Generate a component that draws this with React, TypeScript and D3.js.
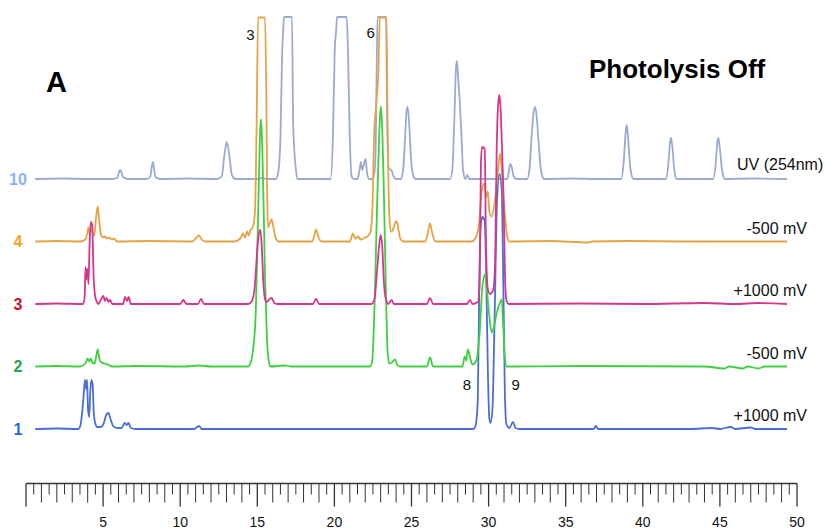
import React from "react";
import * as d3 from "d3";

// ---------- DATA ----------
// retention time (min) axis
const TIME_DOMAIN = [0, 50];
const TICK_LABELS = [5, 10, 15, 20, 25, 30, 35, 40, 45, 50];

// channel ids (top to bottom) and their right-hand descriptions
const CHANNELS = ["10", "4", "3", "2", "1"];
const CHANNEL_DESCRIPTIONS = ["UV (254nm)", "-500 mV", "+1000 mV", "-500 mV", "+1000 mV"];

// signal traces: [time (min), response (arbitrary units)]
const UV_254 = [
  [0.6, 0], [2.5, 0.5], [4, 0], [5.6, 0], [5.9, 1], [6.1, 9], [6.3, 2], [6.6, 0],
  [7.8, 0], [8.05, 2], [8.22, 17], [8.4, 2], [8.7, 0], [10.5, 0.5],
  [12.4, 0], [12.7, 3], [12.85, 22], [13.02, 37], [13.2, 22], [13.35, 4], [13.6, 0],
  [15.0, 0], [15.3, 1], [15.6, 0],
  [16.2, 0], [16.35, 6], [16.5, 40], [16.6, 119], [16.68, 150], [16.73, 162], [17.25, 162],
  [17.32, 60], [17.4, 29], [17.5, 10], [17.6, 0],
  [19.75, 0], [19.9, 40], [20.02, 128], [20.12, 150], [20.17, 162], [20.8, 162], [20.88, 128],
  [21.0, 40], [21.12, 2], [21.3, 0],
  [21.5, 0], [21.62, 8], [21.72, 17], [21.8, 9], [21.9, 14], [22.02, 20], [22.12, 6], [22.25, 0],
  [22.5, 0], [22.62, 10], [22.68, 32], [22.75, 120], [22.8, 162], [23.35, 162], [23.42, 60],
  [23.5, 12], [23.6, 10], [23.72, 8], [23.85, 2], [24.0, 0],
  [24.3, 0], [24.45, 8], [24.58, 40], [24.68, 68], [24.75, 72], [24.85, 55], [24.95, 25], [25.1, 4], [25.25, 0],
  [27.5, 0], [27.65, 10], [27.78, 60], [27.88, 110], [27.95, 118], [28.03, 100], [28.12, 80],
  [28.22, 50], [28.35, 8], [28.5, 0], [28.62, 4], [28.75, 0],
  [31.2, 0], [31.3, 6], [31.4, 15], [31.5, 12], [31.62, 3], [31.8, 0],
  [32.5, 0], [32.65, 10], [32.8, 45], [32.95, 70], [33.02, 72], [33.12, 62], [33.25, 35], [33.4, 8], [33.6, 0],
  [35.5, 0.5], [37, 0],
  [38.6, 0], [38.75, 15], [38.88, 45], [38.96, 54], [39.05, 40], [39.2, 10], [39.4, 0],
  [41.5, 0], [41.65, 14], [41.76, 36], [41.83, 41], [41.93, 30], [42.05, 8], [42.2, 0],
  [44.57, 0], [44.72, 14], [44.83, 36], [44.9, 41], [45.0, 30], [45.15, 8], [45.33, 0],
  [47, 0.5], [49.35, 0],
];

const ED_CH4 = [
  [0.6, 0], [2, 0.5], [3.5, 0], [3.85, 2], [4.0, 10], [4.05, 14], [4.12, 8], [4.22, 12], [4.3, 10],
  [4.42, 6], [4.55, 25], [4.65, 35], [4.75, 20], [4.85, 8], [5.0, 4], [5.1, 5], [5.25, 3], [5.4, 4],
  [5.55, 2], [5.7, 3], [5.9, 0], [8, 0.5],
  [10.8, 0], [11.0, 3], [11.22, 6], [11.4, 2], [11.6, 0],
  [13.5, 0], [13.9, 3], [14.07, 8], [14.2, 4], [14.35, 10], [14.45, 6], [14.55, 11], [14.7, 14],
  [14.85, 30], [14.95, 110], [15.05, 224], [15.5, 224], [15.58, 150], [15.65, 40],
  [15.69, 14], [15.8, 18], [15.93, 22], [16.05, 14], [16.2, 3], [16.4, 0],
  [18.55, 0], [18.7, 6], [18.81, 12], [18.95, 5], [19.15, 0],
  [21.0, 0], [21.2, 8], [21.35, 3], [21.55, 5], [21.7, 2], [22.0, 4], [22.2, 6], [22.35, 10],
  [22.48, 40], [22.58, 110], [22.68, 131], [22.85, 170], [22.95, 224], [23.38, 224], [23.45, 120],
  [23.55, 30], [23.65, 10], [23.72, 10], [23.85, 14], [23.95, 19], [24.04, 20], [24.15, 12], [24.3, 2], [24.5, 0],
  [25.9, 0], [26.05, 8], [26.2, 18], [26.35, 8], [26.55, 0],
  [28.9, 0], [29.2, 5], [29.4, 20], [29.55, 50], [29.7, 58], [29.85, 45], [29.95, 50], [30.05, 30],
  [30.2, 25], [30.4, 40], [30.6, 70], [30.75, 88], [30.9, 60], [31.0, 35], [31.1, 20], [31.2, 5], [31.35, 0],
  [34, 0.5], [36.5, -1], [36.7, 0], [39, 0.5], [42.5, 0], [49.35, 0],
];

const ED_CH3 = [
  [0.6, 0], [2, 0.5], [3.7, 0], [3.8, 6], [3.86, 37], [3.92, 25], [3.98, 35], [4.05, 20], [4.12, 57],
  [4.2, 82], [4.3, 78], [4.38, 30], [4.48, 8], [4.6, 2], [4.7, 0], [4.85, 4], [5.01, 8], [5.12, 3],
  [5.23, 6], [5.35, 2], [5.45, 4], [5.6, 0], [6.3, 0], [6.42, 7], [6.55, 3], [6.65, 7], [6.8, 0],
  [10.0, 0], [10.2, 4], [10.4, 0], [11.15, 0], [11.35, 5], [11.55, 0],
  [14.4, 0], [14.65, 3], [14.85, 20], [15.0, 55], [15.1, 70], [15.2, 74], [15.28, 60], [15.4, 20],
  [15.5, 5], [15.6, 2], [15.8, 5], [15.93, 6], [16.1, 1], [16.3, 0],
  [18.6, 0], [18.81, 5], [19.0, 0],
  [22.4, 0], [22.6, 5], [22.75, 30], [22.88, 55], [23.0, 69], [23.1, 58], [23.22, 20], [23.35, 4],
  [23.5, 0], [23.6, 2], [23.72, 4], [23.85, 0],
  [26.0, 0], [26.2, 6], [26.4, 0], [28.6, 0], [28.79, 4], [28.95, 0],
  [29.3, 2], [29.42, 20], [29.5, 140], [29.58, 157], [29.75, 155], [29.83, 60], [29.95, 15],
  [30.1, 10], [30.3, 14], [30.42, 40], [30.52, 150], [30.62, 200], [30.7, 209], [30.78, 195],
  [30.88, 150], [30.98, 100], [31.06, 30], [31.15, 4], [31.3, 0],
  [36, 0.5], [40, 0], [44, 1], [46, 0], [47.5, 1], [49.35, 0],
];

const ED_CH2 = [
  [0.6, 0], [2, 0.5], [3.5, 0], [3.85, 3], [4.0, 8], [4.1, 5], [4.2, 8], [4.3, 4], [4.45, 3],
  [4.55, 10], [4.65, 17], [4.75, 8], [4.9, 4], [5.1, 3], [5.3, 2], [5.6, 0], [7.2, 0.5], [10.3, 0], [11.2, 1], [12, 0],
  [14.4, 0], [14.55, 3], [14.75, 20], [14.9, 54], [15.05, 150], [15.2, 240], [15.25, 247],
  [15.32, 220], [15.4, 167], [15.5, 90], [15.62, 30], [15.75, 5], [15.85, 0], [16.8, 1], [17.2, 0],
  [22.3, 0], [22.45, 5], [22.6, 60], [22.75, 150], [22.9, 230], [23.0, 260], [23.08, 245],
  [23.2, 180], [23.32, 90], [23.45, 15], [23.55, 3], [23.72, 4], [23.93, 7], [24.1, 1], [24.3, 0],
  [26.0, 0], [26.2, 9], [26.4, 0],
  [28.3, 0], [28.45, 10], [28.55, 6], [28.65, 17], [28.75, 12], [28.95, 2], [29.2, 6], [29.4, 30],
  [29.6, 80], [29.77, 92], [29.9, 75], [30.05, 50], [30.2, 34], [30.35, 40], [30.55, 55], [30.75, 64],
  [30.85, 67], [30.95, 40], [31.05, 10], [31.17, 0],
  [36, 0.5], [44, 0], [45.3, -2], [45.6, 0], [46.5, -2], [46.8, 0], [47.5, -2], [47.9, 0], [49.35, 0],
];

const ED_CH1 = [
  [0.6, 0], [2, 0.5], [3.4, 0], [3.55, 5], [3.72, 30], [3.82, 49], [3.9, 40], [3.96, 49], [4.02, 20],
  [4.1, 12], [4.16, 35], [4.24, 49], [4.32, 45], [4.4, 15], [4.5, 5], [4.62, 2], [4.85, 2], [5.05, 6],
  [5.2, 14], [5.34, 16], [5.48, 10], [5.65, 3], [5.9, 1], [6.2, 1], [6.4, 6], [6.53, 4], [6.65, 6],
  [6.8, 1], [7.1, 0], [10.9, 0], [11.22, 3], [11.4, 0],
  [29.0, 0], [29.15, 3], [29.3, 30], [29.4, 150], [29.5, 205], [29.6, 212], [29.75, 208], [29.85, 150],
  [29.95, 60], [30.05, 10], [30.12, 6], [30.25, 20], [30.4, 120], [30.55, 230], [30.7, 255],
  [30.85, 240], [30.95, 150], [31.05, 40], [31.15, 5], [31.35, 1], [31.58, 7], [31.75, 1], [32, 0],
  [36.8, 0], [36.96, 3], [37.1, 0], [43, 0], [44.5, 1], [45, 0], [45.7, 2], [46, 0], [47, 1.5], [47.3, 0], [49.35, 0],
];

const SIGNALS = [UV_254, ED_CH4, ED_CH3, ED_CH2, ED_CH1];

// peak annotations: [label, time, channel it sits above/below]
const PEAK_LABELS = ["3", "6", "8", "9"];
const PEAK_TIMES = [14.55, 22.35, 28.6, 31.75];

// ---------- STYLE ----------
const LINE_COLORS = ["#9caad0", "#e6a243", "#d6378c", "#3fd03f", "#4a6ed6"];
const LABEL_COLORS = ["#8cb2f4", "#f4a623", "#c8102e", "#1da84f", "#1f6fd1"];
const FONT = "'Liberation Sans', Arial, Helvetica, sans-serif";

export default function App() {
  const width = 826;
  const height = 529;

  const x = d3.scaleLinear().domain(TIME_DOMAIN).range([26, 797]);
  const offset = d3.scalePoint<string>().domain(CHANNELS).range([179, 429]);
  const yResp = d3.scaleLinear().domain([0, 100]).range([0, 100]);

  const axisY = 483.5;
  const ticks = d3.range(0, 101).map((i) => i / 2);

  const lineFor = (ch: string) =>
    d3
      .line<number[]>()
      .x((d) => x(d[0]))
      .y((d) => (offset(ch) as number) - yResp(d[1]))
      .curve(d3.curveMonotoneX);

  const drawOrder = [0, 4, 3, 1, 2];

  const peakY = [40, 38, 390, 390];

  return (
    <svg
      width={width}
      height={height}
      style={{ position: "absolute", left: 0, top: 0, background: "#fff" }}
      fontFamily={FONT}
    >
      <rect x={0} y={0} width={width} height={height} fill="#fff" />

      {drawOrder.map((i) => (
        <path
          key={CHANNELS[i]}
          d={lineFor(CHANNELS[i])(SIGNALS[i] as number[][]) || ""}
          fill="none"
          stroke={LINE_COLORS[i]}
          strokeWidth={1.8}
          strokeLinejoin="round"
        />
      ))}

      {CHANNELS.map((ch, i) => (
        <text
          key={"l" + ch}
          x={18}
          y={(offset(ch) as number) + 5.5}
          textAnchor="middle"
          fontWeight="bold"
          fontSize={16}
          fill={LABEL_COLORS[i]}
        >
          {ch}
        </text>
      ))}

      {CHANNELS.map((ch, i) =>
        i === 0 ? (
          <text key={"d" + ch} x={737} y={(offset(ch) as number) - 9} fontSize={16} fill="#111">
            {CHANNEL_DESCRIPTIONS[i]}
          </text>
        ) : (
          <text
            key={"d" + ch}
            x={807}
            y={(offset(ch) as number) - 8}
            textAnchor="end"
            fontSize={16}
            fill="#111"
          >
            {CHANNEL_DESCRIPTIONS[i]}
          </text>
        )
      )}

      {PEAK_LABELS.map((p, i) => (
        <text key={"p" + p} x={x(PEAK_TIMES[i])} y={peakY[i]} textAnchor="middle" fontSize={15} fill="#111">
          {p}
        </text>
      ))}

      <text x={46} y={92} fontSize={29} fontWeight="bold" fill="#000">
        A
      </text>
      <text x={589} y={78} fontSize={26} fontWeight="bold" fill="#000">
        Photolysis Off
      </text>

      {/* time axis */}
      <line x1={x(0)} x2={x(50)} y1={axisY} y2={axisY} stroke="#333" strokeWidth={1.6} />
      {ticks.map((t) => {
        const major = Math.abs(t % 5) < 1e-9;
        const whole = Math.abs(t % 1) < 1e-9;
        const len = major ? 23 : whole ? 19 : 11;
        return (
          <line
            key={"t" + t}
            x1={x(t)}
            x2={x(t)}
            y1={axisY}
            y2={axisY + len}
            stroke="#333"
            strokeWidth={major ? 1.3 : 1}
          />
        );
      })}
      {TICK_LABELS.map((t) => (
        <text key={"tl" + t} x={x(t)} y={527} textAnchor="middle" fontSize={14} fill="#111">
          {t}
        </text>
      ))}
    </svg>
  );
}
